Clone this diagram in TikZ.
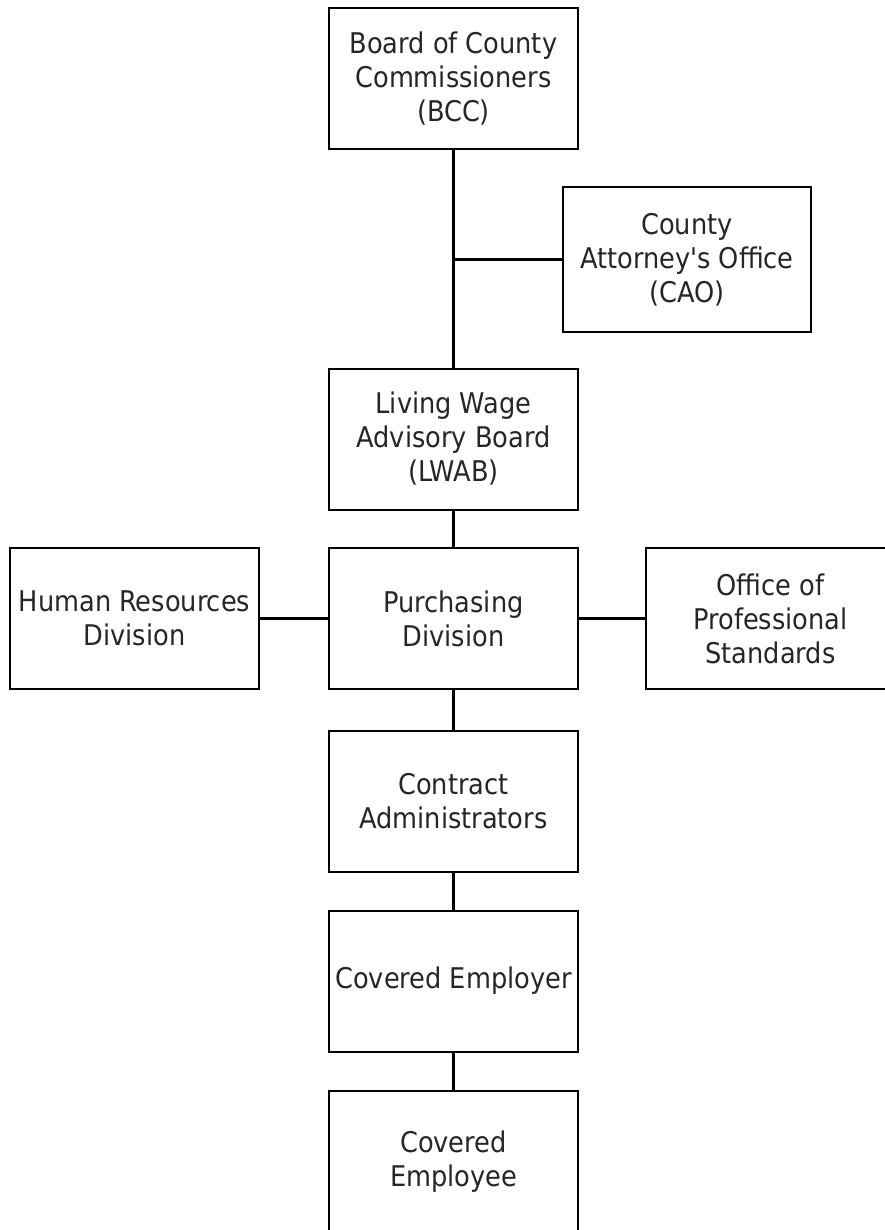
\documentclass[tikz,border=0pt]{standalone}
\usepackage{fontspec}
% a family without the TeX quote mapping keeps the straight apostrophe
\newfontfamily\orgfont{DejaVu Sans Condensed}
\begin{document}
\begin{tikzpicture}[x=1pt,y=-1pt,
  orgbox/.style={draw=black, line width=2pt, fill=white, inner sep=0pt,
    minimum width=249pt, minimum height=141pt, align=center,
    text=black!85, font=\orgfont\fontsize{28.5}{34}\selectfont},
  link/.style={line width=3.5pt, black}]
\useasboundingbox (0,0) rectangle (885,1230);
\clip (0,0) rectangle (885,1230);
% hierarchy boxes
\node[orgbox] (bcc) at (453.5,78.5) {Board of County\\Commissioners\\(BCC)};
\node[orgbox, minimum width=248pt, minimum height=145pt] (cao) at (687,259.5) {County\\Attorney's Office\\(CAO)};
\node[orgbox] (lwab) at (453.5,439) {Living Wage\\Advisory Board\\(LWAB)};
\node[orgbox] (pur) at (453.5,618.5) {Purchasing\\Division};
\node[orgbox] (hr) at (134.5,618.5) {Human Resources\\Division};
\node[orgbox] (ops) at (770.5,618.5) {Office of\\Professional\\Standards};
\node[orgbox] (ca) at (453.5,801.5) {Contract\\Administrators};
\node[orgbox] (cer) at (453.5,981) {Covered Employer};
\node[orgbox] (cee) at (453.5,1161.5) {Covered\\Employee};
% connectors
\coordinate (j) at (bcc.south |- cao.west);
\draw[link] (bcc.south) -- (lwab.north);
\draw[link] (j) -- (cao.west);
\draw[link] (lwab.south) -- (pur.north);
\draw[link] (pur.west) -- (hr.east);
\draw[link] (pur.east) -- (ops.west);
\draw[link] (pur.south) -- (ca.north);
\draw[link] (ca.south) -- (cer.north);
\draw[link] (cer.south) -- (cee.north);
\end{tikzpicture}
\end{document}
